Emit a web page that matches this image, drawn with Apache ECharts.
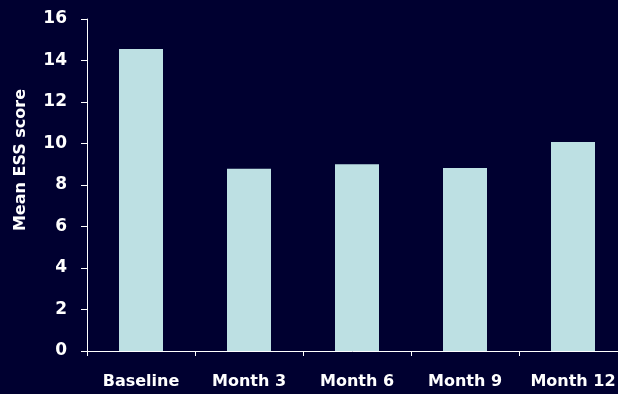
<!DOCTYPE html>
<html>
<head>
<meta charset="utf-8">
<script src="https://cdn.jsdelivr.net/npm/echarts@6/dist/echarts.min.js"></script>
<style>
  html, body { margin: 0; padding: 0; background: #000030; overflow: hidden; }
  #chart { width: 618px; height: 394px; }
</style>
</head>
<body>
<div id="chart"></div>
<script>
// Mean Epworth Sleepiness Scale score at each visit
const categories = ['Baseline', 'Month 3', 'Month 6', 'Month 9', 'Month 12'];
const meanEss = [14.55, 8.78, 9.0, 8.82, 10.07];
const yTicks = { min: 0, max: 16, interval: 2 };

const FONT = '"DejaVu Sans", Verdana, sans-serif';
const chart = echarts.init(document.getElementById('chart'), null, { renderer: 'canvas' });

chart.setOption({
  backgroundColor: '#000030',
  animation: false,
  // the plot runs slightly past the right edge of the canvas
  grid: {
    left: 87, width: 540, top: 19, bottom: 43,
    containLabel: false,
    outerBoundsMode: 'none'
  },
  xAxis: {
    type: 'category',
    data: categories,
    boundaryGap: true,
    axisLine: { lineStyle: { color: '#ffffff', width: 1 } },
    axisTick: { show: true, length: 5, lineStyle: { color: '#ffffff' } },
    axisLabel: {
      interval: 0,
      hideOverlap: false,
      color: '#ffffff',
      fontFamily: FONT,
      fontWeight: 'bold',
      fontSize: 16,
      margin: 23
    }
  },
  yAxis: {
    type: 'value',
    min: yTicks.min,
    max: yTicks.max,
    interval: yTicks.interval,
    axisLine: { show: true, lineStyle: { color: '#ffffff', width: 1 } },
    axisTick: { show: true, length: 6, lineStyle: { color: '#ffffff' } },
    splitLine: { show: false },
    axisLabel: { color: '#ffffff', fontFamily: FONT, fontWeight: 'bold', fontSize: 17, margin: 20 }
  },
  graphic: [{
    type: 'text',
    x: 21,
    y: 160,
    rotation: Math.PI / 2,
    style: {
      text: 'Mean ESS score',
      fill: '#ffffff',
      font: 'bold 16px ' + FONT,
      textAlign: 'center',
      textVerticalAlign: 'middle'
    }
  }],
  series: [{
    type: 'bar',
    data: meanEss,
    barWidth: 44,
    itemStyle: { color: '#bde0e3' }
  }]
});
</script>
</body>
</html>
